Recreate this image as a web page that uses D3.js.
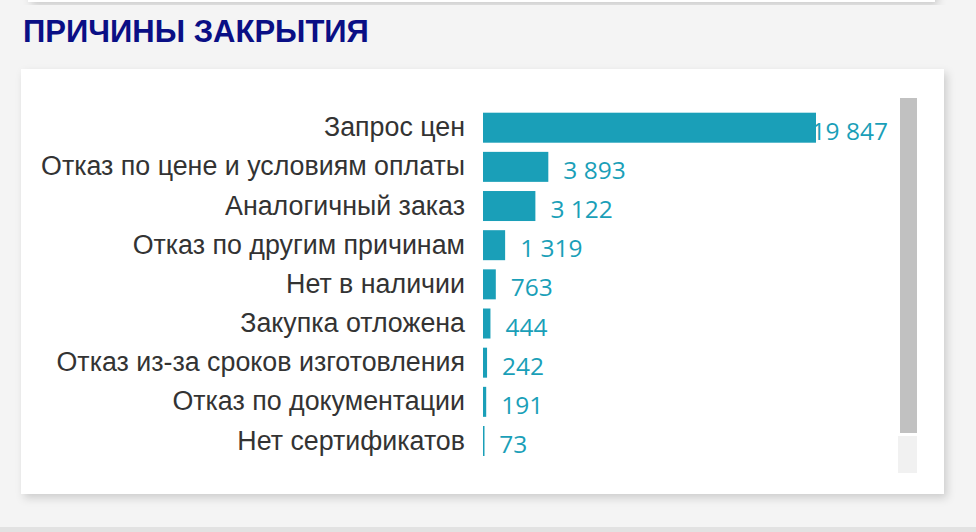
<!DOCTYPE html>
<html>
<head>
<meta charset="utf-8">
<script src="https://cdn.jsdelivr.net/npm/d3@7"></script>
<style>
html,body{margin:0;padding:0;background:#f4f4f4;overflow:hidden;}
</style>
</head>
<body>
<script>
const categories = [
  "Запрос цен",
  "Отказ по цене и условиям оплаты",
  "Аналогичный заказ",
  "Отказ по другим причинам",
  "Нет в наличии",
  "Закупка отложена",
  "Отказ из-за сроков изготовления",
  "Отказ по документации",
  "Нет сертификатов"
];
const values = [19847, 3893, 3122, 1319, 763, 444, 242, 191, 73];
const title = "ПРИЧИНЫ ЗАКРЫТИЯ";

const W = 976, H = 532;
const svg = d3.select("body").append("svg").attr("width", W).attr("height", H);

const defs = svg.append("defs");
const f = defs.append("filter").attr("id","sh").attr("x","-5%").attr("y","-5%").attr("width","110%").attr("height","115%");
f.append("feDropShadow").attr("dx",3).attr("dy",4).attr("stdDeviation",4).attr("flood-color","#000").attr("flood-opacity",0.16);

svg.append("rect").attr("width",W).attr("height",H).attr("fill","#f4f4f4");
// top card edge
svg.append("rect").attr("x",28).attr("y",-20).attr("width",907).attr("height",22).attr("fill","#fff").attr("filter","url(#sh)");
// bottom strip
svg.append("rect").attr("x",0).attr("y",527).attr("width",W).attr("height",5).attr("fill","#e2e2e2");

svg.append("text").attr("x",23).attr("y",42)
  .attr("font-family","'Liberation Sans', Arial, sans-serif").attr("font-weight","bold")
  .attr("font-size",31).attr("fill","#0a0f85").text(title);

// card
svg.append("rect").attr("x",21).attr("y",69).attr("width",923).attr("height",425).attr("fill","#fff").attr("filter","url(#sh)");

// scrollbar
svg.append("rect").attr("x",900).attr("y",98).attr("width",17).attr("height",335).attr("fill","#c1c1c1");
svg.append("rect").attr("x",898).attr("y",436).attr("width",19).attr("height",37).attr("fill","#f1f1f1");

const x0 = 483;
const x = d3.scaleLinear().domain([0, d3.max(values)]).range([0, 333]);
const y = d3.scaleBand().domain(categories).range([112.7, 456]).paddingInner(0.234).paddingOuter(0);

const data = categories.map((c,i)=>({c, v: values[i]}));
const g = svg.append("g");

g.selectAll("rect.bar").data(data).join("rect").attr("class","bar")
  .attr("x", x0).attr("y", d=>y(d.c)).attr("width", d=>Math.max(1.5, x(d.v))).attr("height", y.bandwidth())
  .attr("fill","#1a9fb8");

g.selectAll("text.cat").data(data).join("text").attr("class","cat")
  .attr("x", 465).attr("y", d=>y(d.c)+y.bandwidth()/2+8.5)
  .attr("text-anchor","end")
  .attr("font-family","'Liberation Sans', Arial, sans-serif").attr("font-size",26.8)
  .attr("fill","#333").text(d=>d.c);

const fmt = v => d3.format(",")(v).replace(/,/g, "\u00a0");
g.selectAll("text.val").data(data).join("text").attr("class","val")
  .attr("y", d=>y(d.c)+y.bandwidth()-3)
  .attr("font-family","'Open Sans', 'Noto Sans', sans-serif").attr("font-size",24.5)
  .attr("fill","#1a9fb8").text(d=>fmt(d.v))
  .attr("x", function(d){
    const w = this.getComputedTextLength();
    return Math.min(x0 + x(d.v) + 15, 888 - w);
  });
</script>
</body>
</html>
